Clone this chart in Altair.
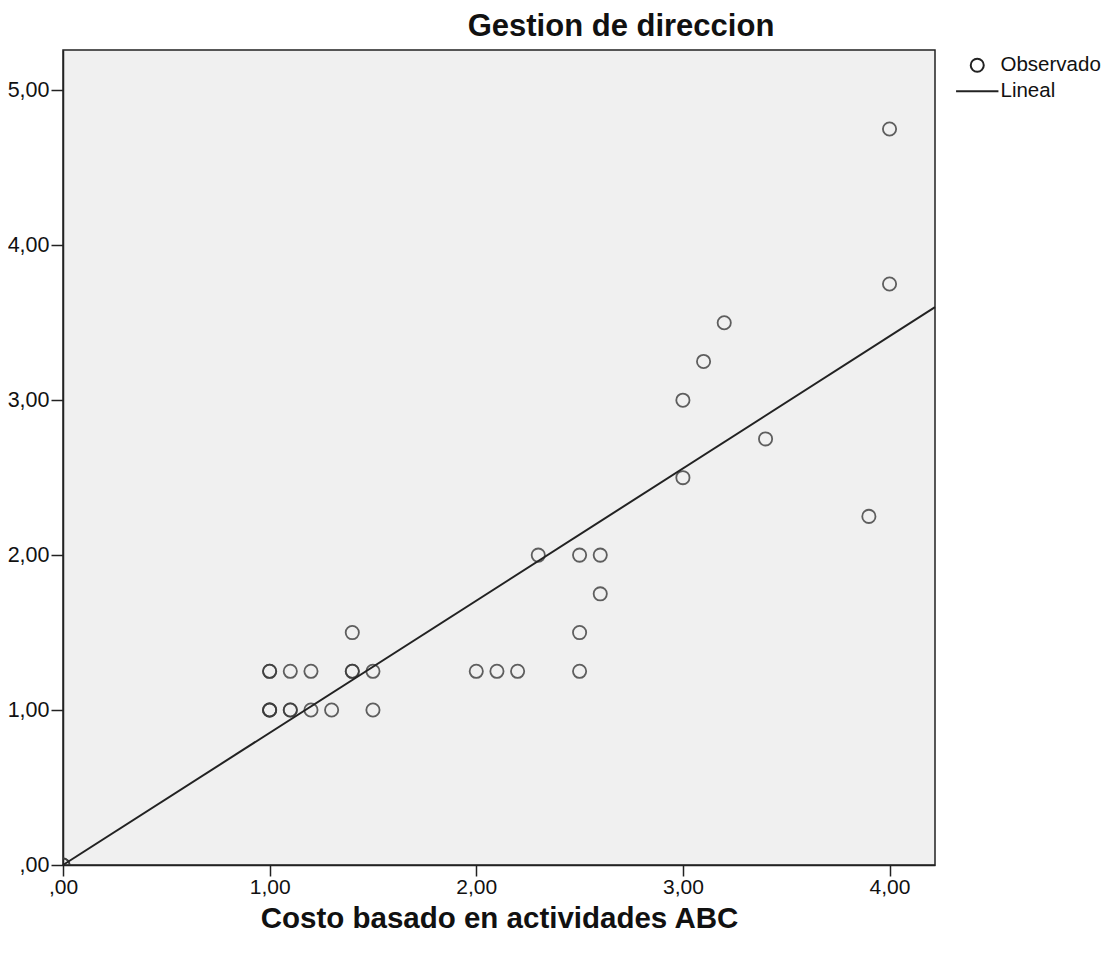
import altair as alt
import pandas as pd

# Observed points (repeated values drawn darker through overlap)
obs_x = [0.0, 0.0, 1.0, 1.0, 1.0, 1.0, 1.0, 1.1, 1.1, 1.1, 1.2, 1.2, 1.3, 1.4, 1.4, 1.4,
         1.5, 1.5, 2.0, 2.1, 2.2, 2.3, 2.5, 2.5, 2.5, 2.6, 2.6, 3.0, 3.0, 3.1, 3.2, 3.4,
         3.9, 4.0, 4.0]
obs_y = [0.0, 0.0, 1.25, 1.25, 1.0, 1.0, 1.0, 1.25, 1.0, 1.0, 1.25, 1.0, 1.0, 1.5, 1.25, 1.25,
         1.25, 1.0, 1.25, 1.25, 1.25, 2.0, 2.0, 1.5, 1.25, 2.0, 1.75, 3.0, 2.5, 3.25, 3.5, 2.75,
         2.25, 4.75, 3.75]

# Linear fit line endpoints
fit_x = [0.0, 4.22]
fit_y = [0.0, 3.60]

x_ticks = [0, 1, 2, 3, 4]
y_ticks = [0, 1, 2, 3, 4, 5]
series = ["Observado", "Lineal"]

obs_df = pd.DataFrame({"x": obs_x, "y": obs_y, "series": series[0]})
fit_df = pd.DataFrame({"x": fit_x, "y": fit_y, "series": series[1]})

label_expr = "datum.value == 0 ? ',00' : replace(format(datum.value, '.2f'), '.', ',')"
FONT = "Liberation Sans"

xscale = alt.Scale(domain=[0, 4.22], nice=False, zero=False)
yscale = alt.Scale(domain=[0, 5.26], nice=False, zero=False)

xaxis = alt.Axis(values=x_ticks, labelExpr=label_expr, title="Costo basado en actividades ABC",
                 grid=False, tickSize=11, tickColor="#222222", domainColor="#222222",
                 domainWidth=1.5, tickWidth=1.5, labelFlush=False,
                 labelFontSize=21, labelColor="#111111", labelFont=FONT,
                 titleFont=FONT, titleFontSize=29.5, titleFontWeight="bold",
                 titleColor="#111111", titlePadding=7, labelPadding=0)
yaxis = alt.Axis(values=y_ticks, labelExpr=label_expr, title=None,
                 grid=False, tickSize=12, tickColor="#222222", domainColor="#222222",
                 domainWidth=1.5, tickWidth=1.5, labelFlush=False,
                 labelFontSize=21.5, labelColor="#111111", labelFont=FONT,
                 labelPadding=2)

line_path = "M-3.25,0L3.25,0"

points = alt.Chart(obs_df).mark_point(filled=False, size=175, strokeWidth=1.8,
                                       color="#3a3a3a", opacity=0.8, clip=True).encode(
    x=alt.X("x:Q", scale=xscale, axis=xaxis),
    y=alt.Y("y:Q", scale=yscale, axis=yaxis),
    shape=alt.Shape("series:N",
                    scale=alt.Scale(domain=series, range=["circle", line_path]),
                    legend=alt.Legend(title=None, orient="none", legendX=904, legendY=5,
                                      labelFontSize=20.5, labelFont=FONT,
                                      labelColor="#111111", symbolSize=170,
                                      symbolStrokeColor="#222222", symbolFillColor="transparent",
                                      symbolOpacity=1,
                                      symbolStrokeWidth=2, rowPadding=5, labelOffset=13)),
)

line = alt.Chart(fit_df).mark_line(color="#222222", strokeWidth=2).encode(
    x=alt.X("x:Q", scale=xscale),
    y=alt.Y("y:Q", scale=yscale),
)

chart = alt.layer(points, line).properties(
    width=872, height=815,
    background="white",
    title=alt.TitleParams("Gestion de direccion", font=FONT, fontSize=31,
                          fontWeight="bold", color="#111111", anchor="middle", dx=122, offset=7),
    autosize=alt.AutoSizeParams(type="none"),
    padding={"left": 55, "top": 42, "right": 172, "bottom": 90},
).configure_view(fill="#f0f0f0", stroke="#222222", strokeWidth=1.5)

chart.save("out.html", embed_options={"renderer": "svg", "actions": False})
